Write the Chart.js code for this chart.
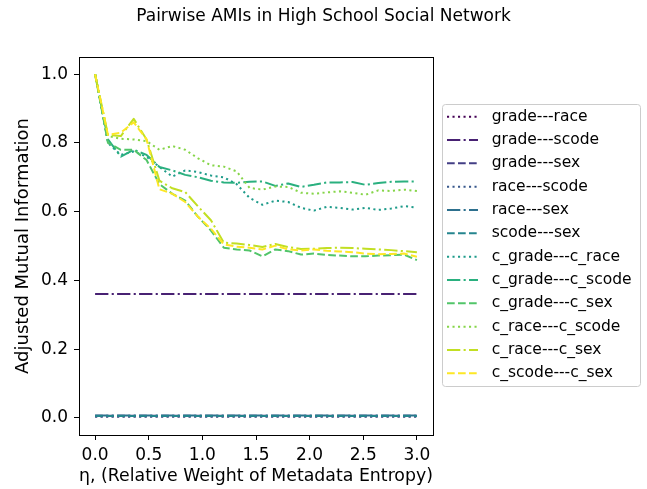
<!DOCTYPE html>
<html>
<head>
<meta charset="utf-8">
<script src="https://cdn.jsdelivr.net/npm/chart.js@4.4.1/dist/chart.umd.min.js"></script>
<style>
  html, body { margin: 0; padding: 0; background: #fff; }
  canvas { display: block; }
</style>
</head>
<body>
<canvas id="amiChart" width="647" height="489"></canvas>
<script>
// eta values (x axis) and tick positions
const etaValues = [0, 0.12, 0.24, 0.36, 0.48, 0.6, 0.72, 0.84, 0.96, 1.08, 1.2, 1.32, 1.44,
  1.56, 1.68, 1.8, 1.92, 2.04, 2.16, 2.28, 2.4, 2.52, 2.64, 2.76, 2.88, 3.0];
const xTicks = [0, 0.5, 1.0, 1.5, 2.0, 2.5, 3.0];
const yTicks = [0, 0.2, 0.4, 0.6, 0.8, 1.0];

const seriesNames = [
  "grade---race", "grade---scode", "grade---sex", "race---scode", "race---sex", "scode---sex",
  "c_grade---c_race", "c_grade---c_scode", "c_grade---c_sex", "c_race---c_scode",
  "c_race---c_sex", "c_scode---c_sex",
];

// AMI values
const gradeRace = [0.004, 0.004, 0.004, 0.004, 0.004, 0.004, 0.004, 0.004, 0.004, 0.004, 0.004, 0.004, 0.004,
  0.004, 0.004, 0.004, 0.004, 0.004, 0.004, 0.004, 0.004, 0.004, 0.004, 0.004, 0.004, 0.004];
const gradeScode = [0.36, 0.36, 0.36, 0.36, 0.36, 0.36, 0.36, 0.36, 0.36, 0.36, 0.36, 0.36, 0.36,
  0.36, 0.36, 0.36, 0.36, 0.36, 0.36, 0.36, 0.36, 0.36, 0.36, 0.36, 0.36, 0.36];
const gradeSex = [0.006, 0.006, 0.006, 0.006, 0.006, 0.006, 0.006, 0.006, 0.006, 0.006, 0.006, 0.006, 0.006,
  0.006, 0.006, 0.006, 0.006, 0.006, 0.006, 0.006, 0.006, 0.006, 0.006, 0.006, 0.006, 0.006];
const raceScode = [0.004, 0.004, 0.004, 0.004, 0.004, 0.004, 0.004, 0.004, 0.004, 0.004, 0.004, 0.004, 0.004,
  0.004, 0.004, 0.004, 0.004, 0.004, 0.004, 0.004, 0.004, 0.004, 0.004, 0.004, 0.004, 0.004];
const raceSex = [0.007, 0.007, 0.007, 0.007, 0.007, 0.007, 0.007, 0.007, 0.007, 0.007, 0.007, 0.007, 0.007,
  0.007, 0.007, 0.007, 0.007, 0.007, 0.007, 0.007, 0.007, 0.007, 0.007, 0.007, 0.007, 0.007];
const scodeSex = [0.005, 0.005, 0.005, 0.005, 0.005, 0.005, 0.005, 0.005, 0.005, 0.005, 0.005, 0.005, 0.005,
  0.005, 0.005, 0.005, 0.005, 0.005, 0.005, 0.005, 0.005, 0.005, 0.005, 0.005, 0.005, 0.005];
const cGradeCRace = [1.0, 0.8, 0.765, 0.775, 0.76, 0.73, 0.702, 0.72, 0.715, 0.705, 0.7, 0.68, 0.64,
  0.62, 0.632, 0.628, 0.611, 0.603, 0.614, 0.611, 0.606, 0.611, 0.605, 0.609, 0.616, 0.612];
const cGradeCScode = [1.0, 0.81, 0.76, 0.78, 0.765, 0.73, 0.72, 0.707, 0.7, 0.69, 0.685, 0.684, 0.687,
  0.688, 0.675, 0.682, 0.672, 0.678, 0.685, 0.685, 0.686, 0.678, 0.683, 0.687, 0.688, 0.688];
const cGradeCSex = [1.0, 0.8, 0.78, 0.78, 0.75, 0.68, 0.652, 0.632, 0.585, 0.545, 0.495, 0.49, 0.487,
  0.47, 0.49, 0.485, 0.475, 0.478, 0.474, 0.472, 0.47, 0.47, 0.472, 0.473, 0.475, 0.459];
const cRaceCScode = [1.0, 0.82, 0.812, 0.81, 0.805, 0.78, 0.791, 0.78, 0.755, 0.735, 0.731, 0.717, 0.669,
  0.664, 0.673, 0.672, 0.655, 0.652, 0.656, 0.659, 0.655, 0.649, 0.662, 0.66, 0.664, 0.66];
const cRaceCSex = [1.0, 0.823, 0.82, 0.87, 0.81, 0.69, 0.668, 0.657, 0.615, 0.575, 0.51, 0.507, 0.503,
  0.497, 0.506, 0.497, 0.491, 0.492, 0.494, 0.495, 0.494, 0.492, 0.49, 0.488, 0.485, 0.482];
const cScodeCSex = [1.0, 0.823, 0.83, 0.86, 0.81, 0.665, 0.652, 0.628, 0.585, 0.55, 0.505, 0.498, 0.495,
  0.49, 0.501, 0.49, 0.487, 0.49, 0.486, 0.484, 0.482, 0.478, 0.476, 0.477, 0.478, 0.469];

const allSeries = [gradeRace, gradeScode, gradeSex, raceScode, raceSex, scodeSex,
  cGradeCRace, cGradeCScode, cGradeCSex, cRaceCScode, cRaceCSex, cScodeCSex];

// viridis, 12 steps
const lineColors = ["#440154", "#482173", "#433e85", "#38588c", "#2d708e", "#25858e",
  "#1e9b8a", "#2ab07f", "#52c569", "#86d549", "#c2df23", "#fde725"];

// matplotlib-like dash patterns (dotted, dash-dot, dashed) at lw 1.5
const dotted = [2.1, 3.4];
const dashDot = [13.3, 3.3, 2.1, 3.3];
const dashed = [7.7, 3.3];
const lineDashes = [dotted, dashDot, dashed];

const fontFamily = "'DejaVu Sans', sans-serif";

// frame around the plot area + suptitle
const frameAndTitle = {
  id: "frameAndTitle",
  afterDatasetsDraw(chart) {
    const { ctx, chartArea } = chart;
    ctx.save();
    ctx.strokeStyle = "#000";
    ctx.lineWidth = 1;
    ctx.strokeRect(Math.round(chartArea.left) + 0.5, Math.round(chartArea.top) + 0.5,
      Math.round(chartArea.right - chartArea.left), Math.round(chartArea.bottom - chartArea.top));
    ctx.fillStyle = "#000";
    ctx.font = "17px " + fontFamily;
    ctx.textAlign = "center";
    ctx.textBaseline = "middle";
    ctx.fillText("Pairwise AMIs in High School Social Network", 323.5, 17);
    ctx.restore();
  },
};

// legend box outside the axes, on the right
const legendBox = {
  id: "legendBox",
  afterDraw(chart) {
    const ctx = chart.ctx;
    ctx.save();
    ctx.fillStyle = "rgba(255,255,255,0.8)";
    ctx.strokeStyle = "#cccccc";
    ctx.lineWidth = 1;
    ctx.beginPath();
    ctx.roundRect(442.5, 104.5, 198, 282, 3);
    ctx.fill();
    ctx.stroke();
    ctx.font = "15.5px " + fontFamily;
    ctx.textBaseline = "middle";
    chart.data.datasets.forEach((ds, i) => {
      const y = 116.7 + i * 23.33;
      ctx.strokeStyle = ds.borderColor;
      ctx.lineWidth = 2;
      ctx.setLineDash(ds.borderDash);
      ctx.beginPath();
      ctx.moveTo(447, y);
      ctx.lineTo(478, y);
      ctx.stroke();
      ctx.setLineDash([]);
      ctx.fillStyle = "#000";
      ctx.fillText(ds.label, 491.7, y);
    });
    ctx.restore();
  },
};

const datasets = allSeries.map((values, i) => ({
  label: seriesNames[i],
  data: etaValues.map((eta, j) => ({ x: eta, y: values[j] })),
  borderColor: lineColors[i],
  backgroundColor: lineColors[i],
  borderDash: lineDashes[i % 3],
  borderWidth: 2,
  borderJoinStyle: "round",
  pointRadius: 0,
  fill: false,
  tension: 0,
  order: allSeries.length - i, // later series on top, like matplotlib
}));

const ctx = document.getElementById("amiChart").getContext("2d");
new Chart(ctx, {
  type: "line",
  data: { datasets: datasets },
  options: {
    responsive: false,
    animation: false,
    devicePixelRatio: 1,
    layout: { padding: { left: 0, right: 214, top: 57, bottom: 0 } },
    plugins: {
      legend: { display: false },
      title: { display: false },
      tooltip: { enabled: false },
    },
    scales: {
      x: {
        type: "linear",
        min: -0.15,
        max: 3.15,
        afterBuildTicks: (scale) => {
          scale.ticks = xTicks.map((v) => ({ value: v }));
        },
        afterFit: (scale) => {
          scale.height = 54;
        },
        ticks: {
          autoSkip: false,
          maxRotation: 0,
          color: "#000",
          padding: 5,
          font: { family: fontFamily, size: 17 },
          callback: (v) => Number(v).toFixed(1),
        },
        grid: { drawOnChartArea: false, drawTicks: true, tickLength: 5, color: "#000" },
        border: { display: false },
        title: {
          display: true,
          text: "η, (Relative Weight of Metadata Entropy)",
          color: "#000",
          font: { family: fontFamily, size: 18 },
          padding: { top: 0, bottom: 2 },
        },
      },
      y: {
        type: "linear",
        min: -0.05,
        max: 1.05,
        afterBuildTicks: (scale) => {
          scale.ticks = yTicks.map((v) => ({ value: v }));
        },
        afterFit: (scale) => {
          scale.width = 79;
        },
        ticks: {
          autoSkip: false,
          color: "#000",
          padding: 6,
          font: { family: fontFamily, size: 17 },
          callback: (v) => Number(v).toFixed(1),
        },
        grid: { drawOnChartArea: false, drawTicks: true, tickLength: 5, color: "#000" },
        border: { display: false },
        title: {
          display: true,
          text: "Adjusted Mutual Information",
          color: "#000",
          font: { family: fontFamily, size: 18 },
          padding: { top: 13, bottom: 0 },
        },
      },
    },
  },
  plugins: [frameAndTitle, legendBox],
});
</script>
</body>
</html>
